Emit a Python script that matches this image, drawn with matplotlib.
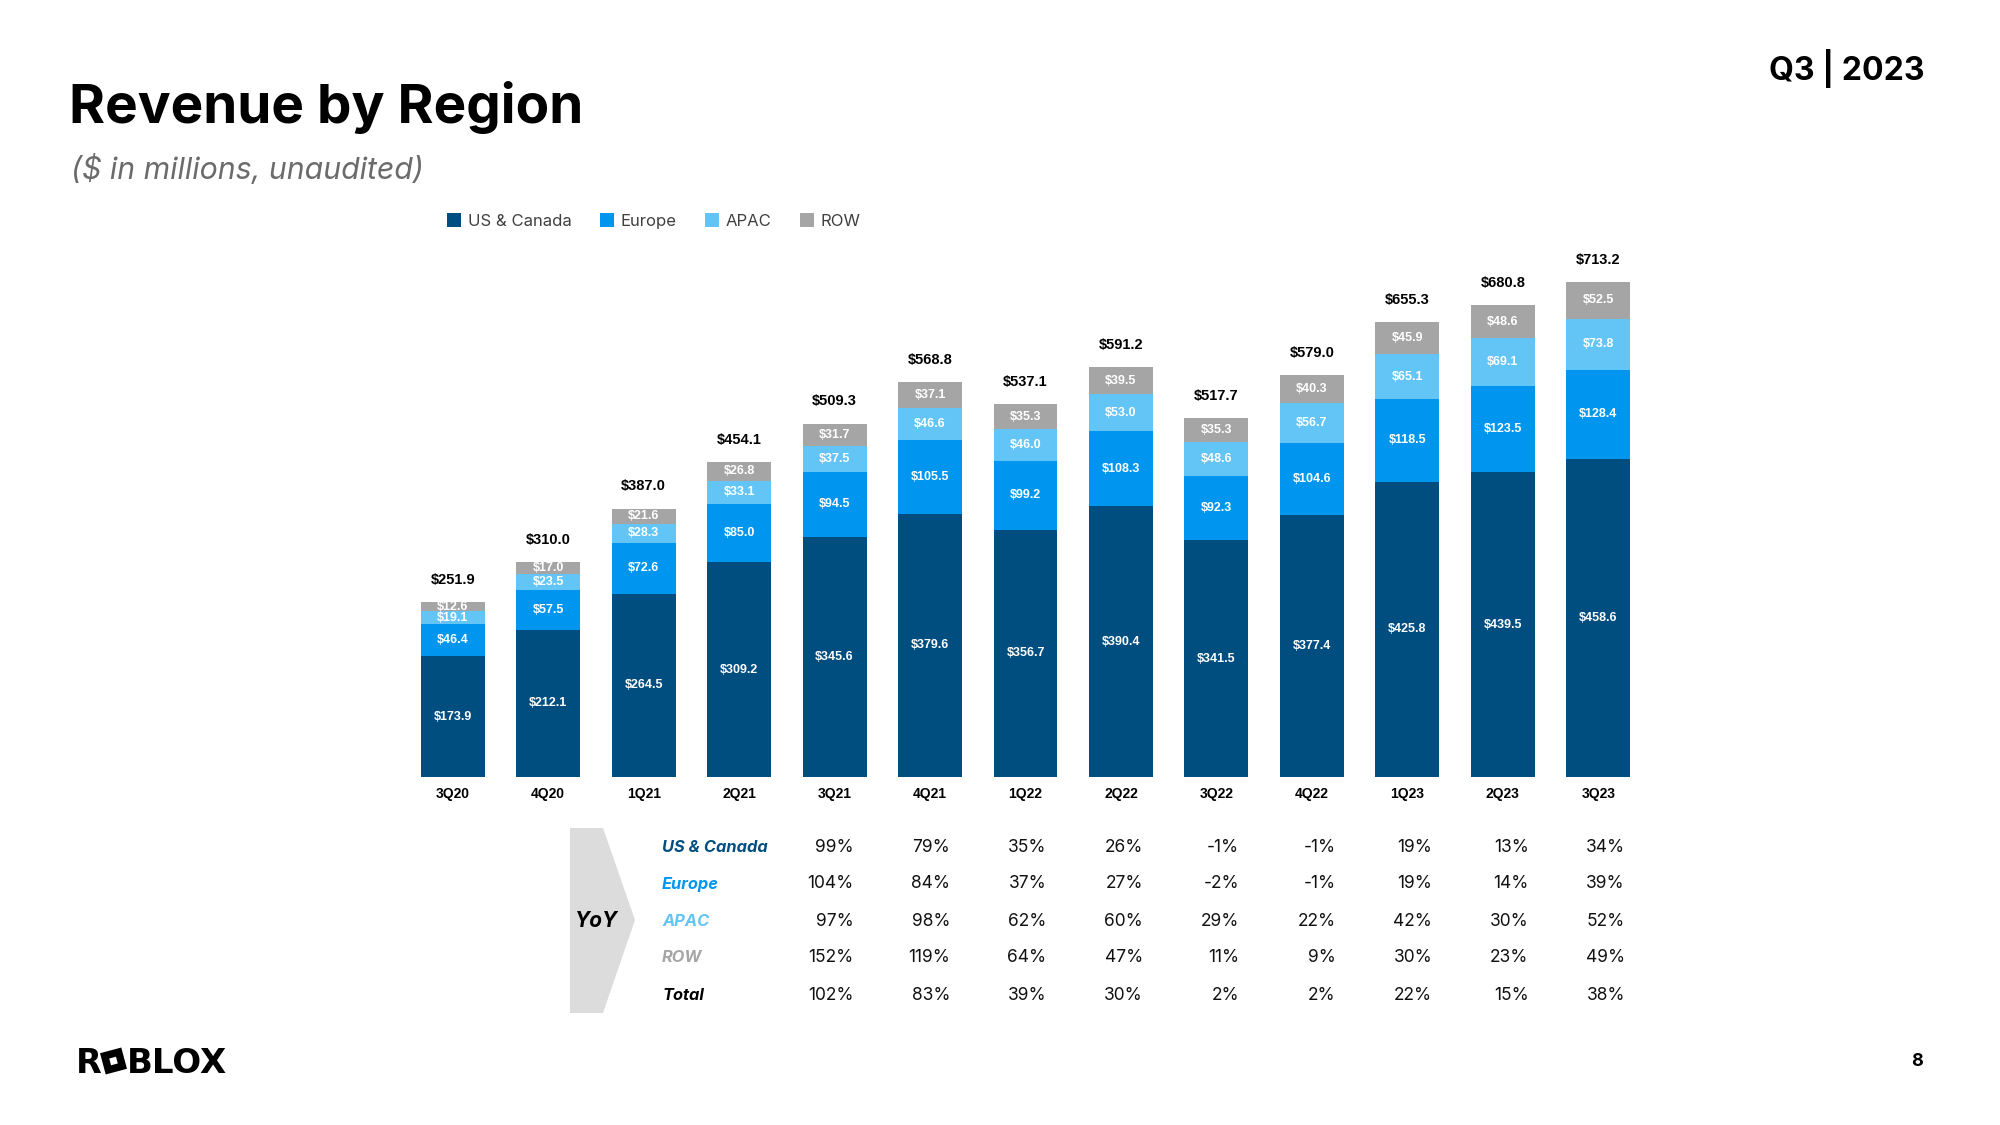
import numpy as np
import matplotlib
matplotlib.use('Agg')
from matplotlib import pyplot as plt
from matplotlib.patches import Polygon, Rectangle
from matplotlib.transforms import blended_transform_factory, Affine2D

# 数据
quarters = ['3Q20', '4Q20', '1Q21', '2Q21', '3Q21', '4Q21', '1Q22',
            '2Q22', '3Q22', '4Q22', '1Q23', '2Q23', '3Q23']
us_canada = [173.9, 212.1, 264.5, 309.2, 345.6, 379.6, 356.7, 390.4, 341.5, 377.4, 425.8, 439.5, 458.6]
europe = [46.4, 57.5, 72.6, 85.0, 94.5, 105.5, 99.2, 108.3, 92.3, 104.6, 118.5, 123.5, 128.4]
apac = [19.1, 23.5, 28.3, 33.1, 37.5, 46.6, 46.0, 53.0, 48.6, 56.7, 65.1, 69.1, 73.8]
row = [12.6, 17.0, 21.6, 26.8, 31.7, 37.1, 35.3, 39.5, 35.3, 40.3, 45.9, 48.6, 52.5]
totals = [251.9, 310.0, 387.0, 454.1, 509.3, 568.8, 537.1, 591.2, 517.7, 579.0, 655.3, 680.8, 713.2]

region_names = ['US & Canada', 'Europe', 'APAC', 'ROW']
region_colors = ['#004d80', '#0096ef', '#62c5f6', '#a5a5a5']

# YoY 增长（从3Q21开始）
yoy_quarters = quarters[4:]
yoy_us = [99, 79, 35, 26, -1, -1, 19, 13, 34]
yoy_europe = [104, 84, 37, 27, -2, -1, 19, 14, 39]
yoy_apac = [97, 98, 62, 60, 29, 22, 42, 30, 52]
yoy_row = [152, 119, 64, 47, 11, 9, 30, 23, 49]
yoy_total = [102, 83, 39, 30, 2, 2, 22, 15, 38]
yoy_labels = ['US & Canada', 'Europe', 'APAC', 'ROW', 'Total']
yoy_label_colors = ['#004d80', '#0096ef', '#62c5f6', '#a5a5a5', '#000000']

W, H = 2000, 1125


def fx(px):
    return px / W


def fy(py):
    return 1 - py / H


fig = plt.figure(figsize=(20, 11.25), dpi=100)
fig.patch.set_facecolor('white')

ax = fig.add_axes([fx(405), fy(777), fx(1646) - fx(405), fy(222) - fy(777)])
x = np.arange(len(quarters))
bottom = np.zeros(len(quarters))
handles = []
for vals, name, color in zip([us_canada, europe, apac, row], region_names, region_colors):
    bars = ax.bar(x, vals, width=0.67, bottom=bottom, color=color, label=name)
    handles.append(bars)
    for xi, b, v in zip(x, bottom, vals):
        ax.text(xi, b + v / 2, f'${v:.1f}', ha='center', va='center', color='white',
                fontsize=9, fontweight='bold', family='Liberation Sans')
    bottom = bottom + np.array(vals)

# 总额标签
for xi, top, t in zip(x, bottom, totals):
    ax.annotate(f'${t:.1f}', (xi, top), xytext=(0, 16), textcoords='offset points',
                ha='center', va='center', fontsize=10.5, fontweight='bold',
                family='Liberation Sans', color='black')

ax.set_xlim(-0.5, len(quarters) - 0.5)
ax.set_ylim(0, 800)
ax.set_xticks(x)
ax.set_xticklabels(quarters, fontsize=10, fontweight='bold', family='Liberation Sans')
ax.tick_params(axis='x', length=0, pad=7)
ax.set_yticks([])
for s in ax.spines.values():
    s.set_visible(False)

# 图例
fig.legend(handles=handles, labels=region_names, loc='center left',
           bbox_to_anchor=(fx(447), fy(221)), ncol=4, frameon=False,
           prop={'family': 'Inter', 'size': 12}, labelcolor='#404040',
           handlelength=0.85, handleheight=0.85, handletextpad=0.4,
           columnspacing=1.7, borderpad=0, borderaxespad=0)

# 标题
fig.text(fx(69), fy(123), 'Revenue by Region', fontsize=39.5, fontweight='bold',
         family='Inter', ha='left', va='baseline')
fig.text(fx(71), fy(170), '($ in millions, unaudited)', fontsize=21.8, style='italic',
         family='Inter', color='#6b6b6b', ha='left', va='center')
fig.text(fx(1925), fy(68), 'Q3 | 2023', fontsize=23, fontweight='bold', family='Inter',
         ha='right', va='center')
fig.text(fx(1917), fy(1061), '8', fontsize=13, fontweight='bold', family='Inter',
         ha='center', va='center')

# YoY 表格
chev = [(570, 828), (603, 828), (635, 920), (603, 1013), (570, 1013)]
fig.patches.append(Polygon([(fx(a), fy(b)) for a, b in chev], closed=True,
                           facecolor='#dcdcdc', edgecolor='none',
                           transform=fig.transFigure, figure=fig))
fig.text(fx(597), fy(921), 'YoY', fontsize=15, fontweight='bold', style='italic',
         family='Inter', ha='center', va='center')

row_y = [847, 884, 921, 958, 995]
trans = blended_transform_factory(ax.transData, fig.transFigure)
for label, color, vals, ry in zip(yoy_labels, yoy_label_colors,
                                  [yoy_us, yoy_europe, yoy_apac, yoy_row, yoy_total], row_y):
    fig.text(fx(662), fy(ry), label, fontsize=11.8, fontweight='bold', style='italic',
             family='Inter', color=color, ha='left', va='center')
    for q, v in zip(yoy_quarters, vals):
        xi = quarters.index(q)
        ax.text(xi + 0.2 + 0.01 * (xi - 4), fy(ry), f'{v}%', transform=trans, fontsize=12.5,
                family='Inter', ha='right', va='center', color='#111111', clip_on=False)

# ROBLOX 标志
fig.text(fx(76), fy(1073), 'R', fontsize=24, fontweight='bold', family='DejaVu Sans',
         ha='left', va='baseline')
fig.text(fx(127), fy(1073), 'BLOX', fontsize=24.5, fontweight='bold', family='DejaVu Sans',
         ha='left', va='baseline')
cx, cy = 113.5, 1061
outer = Rectangle((cx - 11, H - cy - 11), 22, 22, facecolor='black', edgecolor='none')
inner = Rectangle((cx - 3.5, H - cy - 3.5), 7, 7, facecolor='white', edgecolor='none')
for p in (outer, inner):
    p.set_transform(Affine2D().rotate_deg_around(cx, H - cy, 15))
    fig.patches.append(p)
    p.set_figure(fig)

fig.savefig('out.png', dpi=100, facecolor='white')
